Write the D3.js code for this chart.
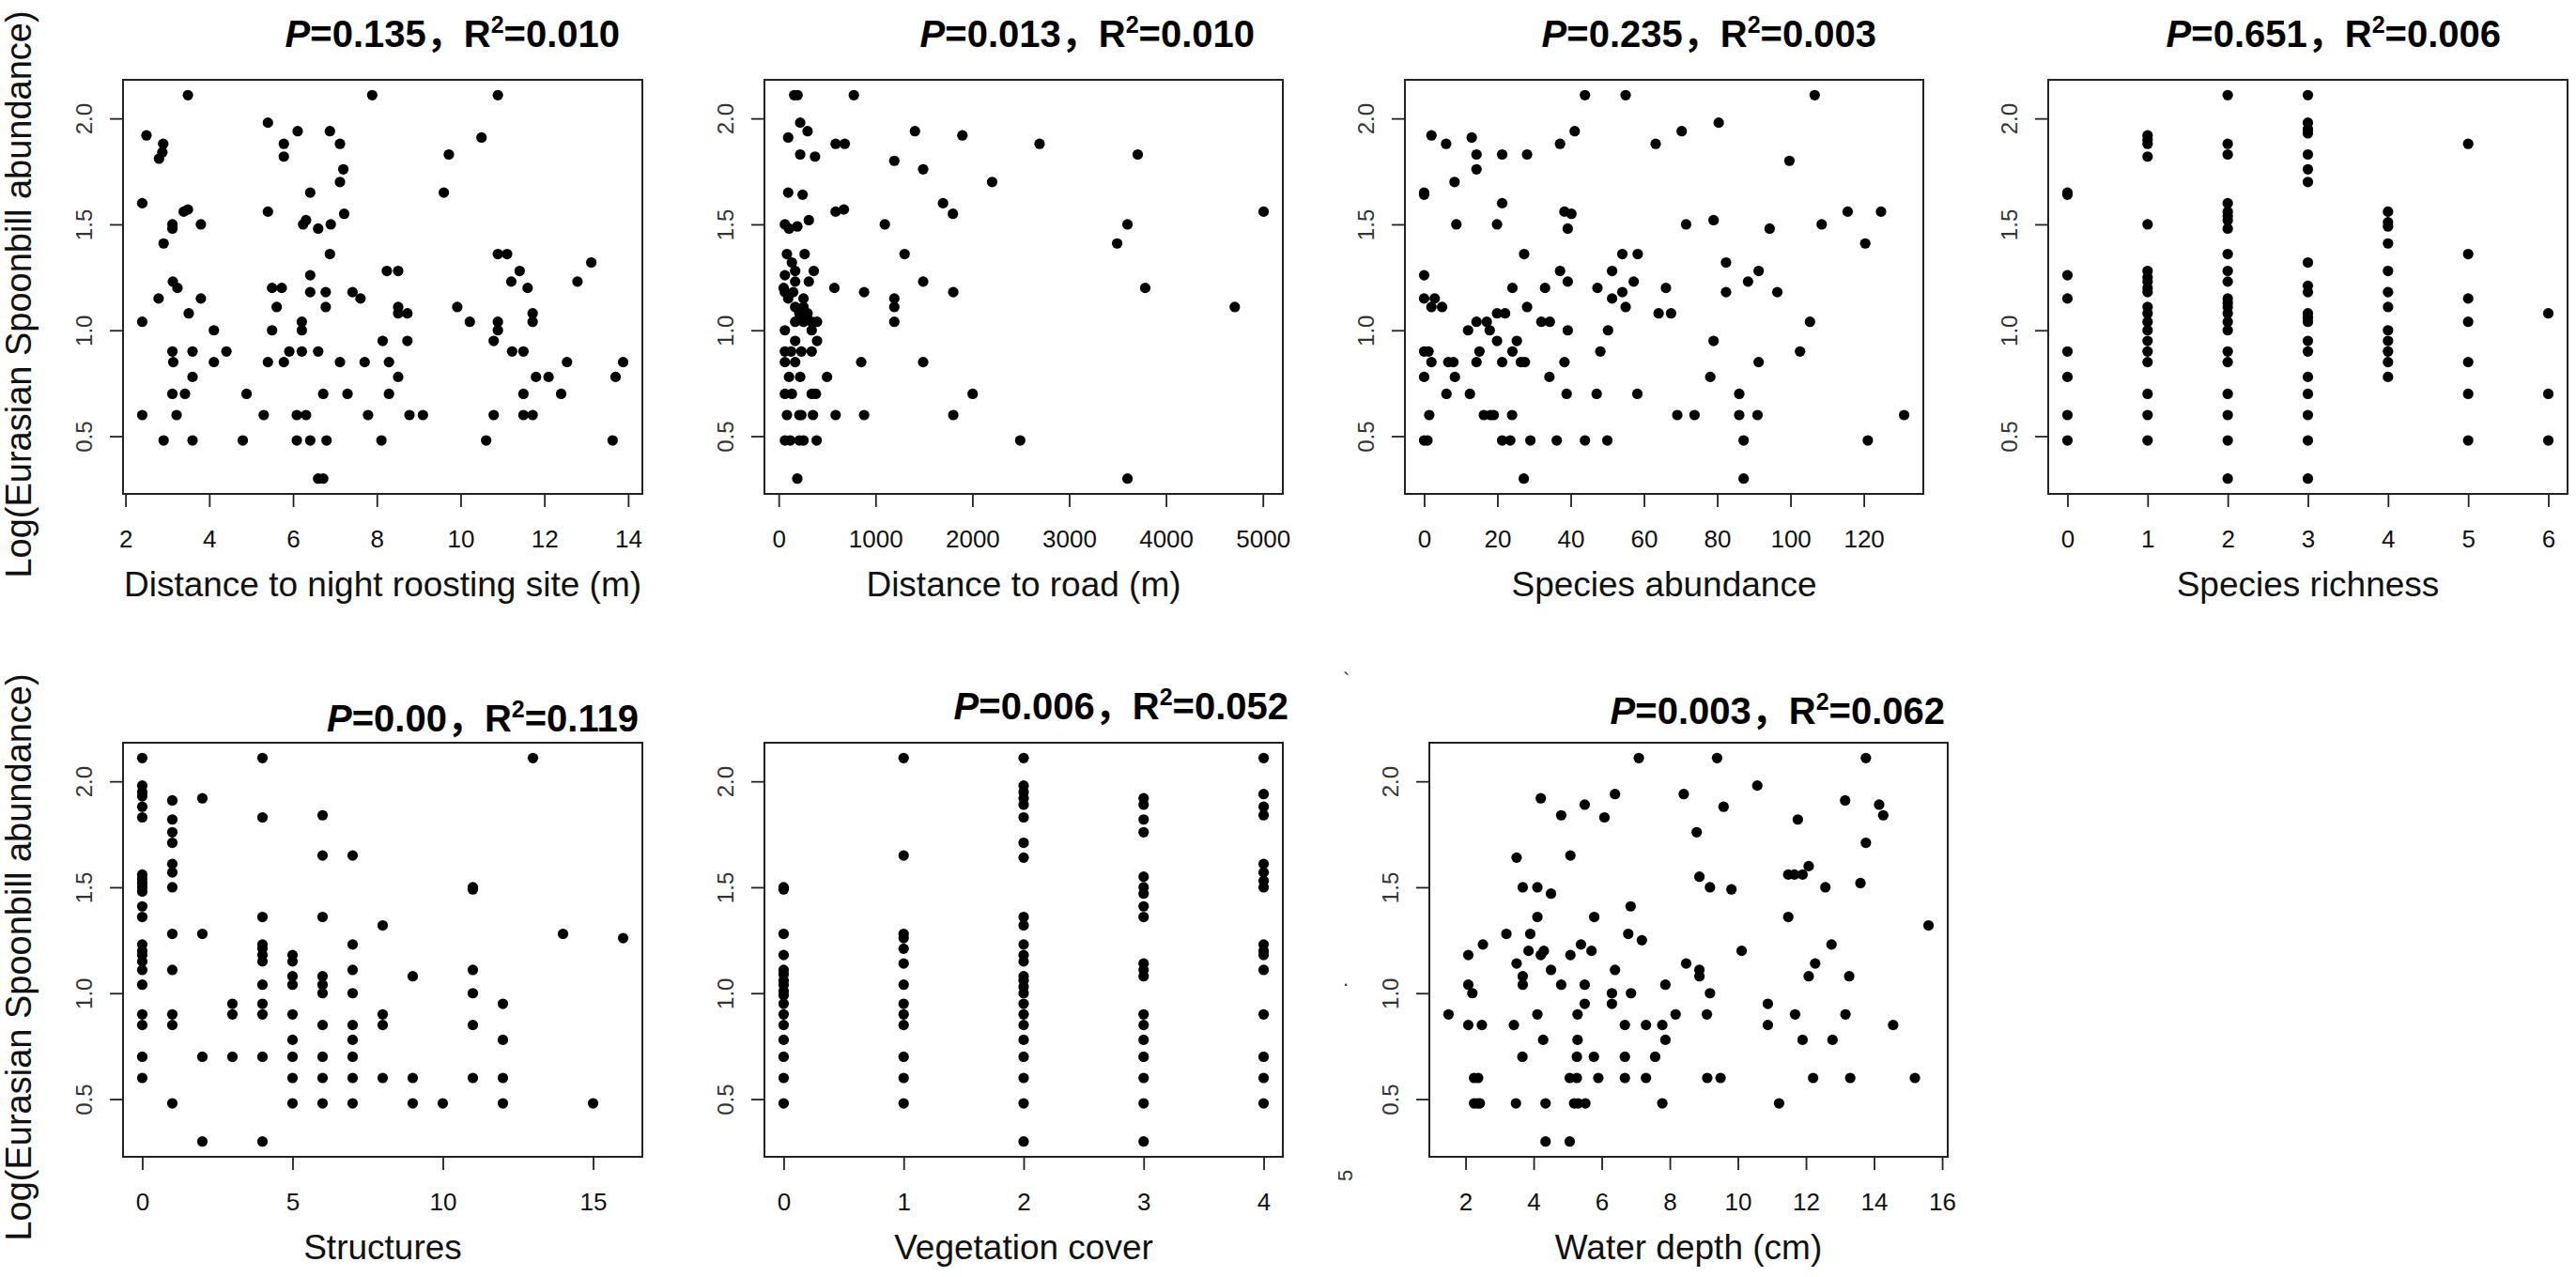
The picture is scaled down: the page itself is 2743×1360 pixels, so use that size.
<!DOCTYPE html>
<html>
<head>
<meta charset="utf-8">
<script src="https://cdn.jsdelivr.net/npm/d3@7"></script>
<style>
  body { margin: 0; background: #fff; }
  svg { display: block; }
</style>
</head>
<body>
<div id="chart"></div>
<script>
// ---- data (y = log10 abundance) ----
var yLabel = "Log(Eurasian Spoonbill abundance)";
var xTitles = ["Distance to night roosting site (m)", "Distance to road (m)", "Species abundance",
  "Species richness", "Structures", "Vegetation cover", "Water depth (cm)"];
var pValues = ["0.135", "0.013", "0.235", "0.651", "0.00", "0.006", "0.003"];
var r2Values = ["0.010", "0.010", "0.003", "0.006", "0.119", "0.052", "0.062"];
var yTicks = [0.5, 1.0, 1.5, 2.0];
var roostTicks = [2, 4, 6, 8, 10, 12, 14];
var roadTicks = [0, 1000, 2000, 3000, 4000, 5000];
var abundTicks = [0, 20, 40, 60, 80, 100, 120];
var richTicks = [0, 1, 2, 3, 4, 5, 6];
var structTicks = [0, 5, 10, 15];
var vegTicks = [0, 1, 2, 3, 4];
var depthTicks = [2, 4, 6, 8, 10, 12, 14, 16];

var roostPts = [
  [3.49,2.11],[7.89,2.11],[10.89,2.11],[2.50,1.92],[2.90,1.88],[2.80,1.81],[2.88,1.84],
  [5.40,1.98],[5.78,1.88],[5.78,1.82],[6.11,1.94],[6.88,1.94],[7.12,1.88],[7.20,1.76],[7.12,1.70],[6.41,1.65],
  [10.50,1.91],[9.72,1.83],[9.60,1.65],[2.40,1.60],[3.39,1.56],[3.49,1.57],[3.12,1.50],[3.12,1.48],[3.80,1.50],[2.91,1.41],
  [5.40,1.56],[6.24,1.50],[6.31,1.52],[6.60,1.48],[6.90,1.50],[7.22,1.55],[6.88,1.36],
  [10.89,1.36],[11.11,1.36],[11.41,1.28],[11.21,1.23],[11.60,1.20],[12.79,1.23],[13.12,1.32],
  [8.24,1.28],[8.51,1.28],[8.51,1.11],[8.51,1.08],[8.73,1.08],[8.73,0.95],[8.14,0.95],
  [7.42,1.18],[7.61,1.15],[6.41,1.26],[6.41,1.18],[6.78,1.18],[6.78,1.11],
  [5.50,1.20],[5.73,1.20],[5.61,1.11],[6.21,1.04],[6.21,1.00],[5.50,1.00],[5.91,0.90],[6.21,0.90],[6.60,0.90],
  [2.79,1.15],[2.40,1.04],[3.13,1.23],[3.24,1.20],[3.80,1.15],[3.51,1.08],[4.11,1.00],[3.12,0.90],[3.60,0.90],[4.41,0.90],
  [9.92,1.11],[10.22,1.04],[10.89,1.04],[10.89,1.00],[10.79,0.95],[11.23,0.90],[11.50,0.90],[11.72,1.08],[11.72,1.04],
  [3.14,0.85],[4.11,0.85],[5.40,0.85],[5.78,0.85],[7.12,0.85],[7.71,0.85],[8.29,0.85],[12.54,0.85],[13.88,0.85],
  [3.60,0.78],[8.51,0.78],[11.80,0.78],[12.10,0.78],[13.70,0.78],
  [3.12,0.70],[3.42,0.70],[4.89,0.70],[6.72,0.70],[7.30,0.70],[8.29,0.70],[11.50,0.70],[12.40,0.70],
  [2.40,0.60],[3.22,0.60],[5.30,0.60],[6.09,0.60],[6.31,0.60],[7.79,0.60],[8.78,0.60],[9.10,0.60],[10.79,0.60],[11.50,0.60],[11.72,0.60],
  [2.91,0.48],[3.60,0.48],[4.80,0.48],[6.09,0.48],[6.41,0.48],[6.80,0.48],[8.11,0.48],[10.61,0.48],[13.63,0.48],
  [6.60,0.30],[6.72,0.30]
];

var roadPts = [
  [160,2.11],[195,2.11],[776,2.11],[222,1.98],[298,1.94],[98,1.91],[588,1.88],[682,1.88],[222,1.83],[375,1.82],
  [1194,1.80],[1407,1.94],[1897,1.92],[1492,1.76],[2204,1.70],[2694,1.88],[3708,1.83],
  [98,1.65],[247,1.64],[588,1.56],[673,1.57],[1697,1.60],[1799,1.55],[1096,1.50],[3602,1.50],[3495,1.41],[5008,1.56],
  [64,1.50],[107,1.48],[192,1.49],[311,1.52],[1300,1.36],[85,1.36],[268,1.36],[136,1.32],[170,1.28],[362,1.28],
  [64,1.26],[311,1.23],[170,1.23],[51,1.20],[575,1.20],[1492,1.23],[882,1.18],[1803,1.18],[3785,1.20],
  [1194,1.15],[1194,1.11],[1194,1.04],[4710,1.11],
  [64,1.18],[98,1.15],[150,1.18],[256,1.15],[256,1.11],[170,1.11],[213,1.08],[298,1.08],[341,1.04],[396,1.04],
  [170,1.04],[256,1.04],[64,1.00],[341,1.00],[170,0.95],[396,0.95],[64,0.90],[128,0.90],[234,0.90],[341,0.90],
  [64,0.85],[170,0.85],[852,0.85],[1492,0.85],[107,0.78],[222,0.78],[499,0.78],
  [64,0.70],[136,0.70],[341,0.70],[384,0.70],[2003,0.70],
  [85,0.60],[213,0.60],[234,0.60],[354,0.60],[588,0.60],[882,0.60],[1803,0.60],
  [64,0.48],[119,0.48],[213,0.48],[256,0.48],[392,0.48],[2494,0.48],[192,0.30],[3602,0.30]
];

var abundPts = [
  [43.9,2.11],[55.0,2.11],[106.6,2.11],[2.0,1.92],[6.0,1.88],[13.0,1.91],[14.3,1.83],[21.3,1.83],[28.1,1.83],
  [37.1,1.88],[41.1,1.94],[63.2,1.88],[70.3,1.94],[80.4,1.98],[99.7,1.80],[14.3,1.76],[8.3,1.70],[0,1.65],[0,1.64],
  [21.3,1.60],[8.8,1.50],[19.9,1.50],[38.3,1.56],[40.2,1.55],[39.2,1.48],[71.5,1.50],[79.0,1.52],[94.3,1.48],
  [108.5,1.50],[115.6,1.56],[124.7,1.56],[120.4,1.41],
  [27.3,1.36],[54.1,1.36],[58.3,1.36],[82.4,1.32],[37.1,1.28],[51.3,1.28],[91.3,1.28],[0,1.26],[39.2,1.23],
  [57.2,1.23],[88.4,1.23],[24.1,1.20],[33.0,1.20],[47.3,1.20],[66.0,1.20],[54.1,1.18],[82.4,1.18],[96.4,1.18],
  [51.3,1.15],[55.0,1.11],[0,1.15],[2.9,1.15],[2.0,1.11],[4.9,1.11],[28.1,1.11],[19.9,1.08],[22.1,1.08],[64.0,1.08],
  [67.4,1.08],[14.3,1.04],[17.1,1.04],[32.0,1.04],[34.3,1.04],[105.3,1.04],[12.0,1.00],[17.9,1.00],[39.2,1.00],
  [50.2,1.00],[19.9,0.95],[25.3,0.95],[79.0,0.95],[0,0.90],[1.2,0.90],[15.1,0.90],[24.1,0.90],[48.1,0.90],[102.6,0.90],
  [2.0,0.85],[6.6,0.85],[8.0,0.85],[14.3,0.85],[21.3,0.85],[26.4,0.85],[27.5,0.85],[38.3,0.85],[91.3,0.85],
  [0,0.78],[8.4,0.78],[34.2,0.78],[78.1,0.78],
  [6.1,0.70],[12.5,0.70],[38.9,0.70],[47.1,0.70],[58.2,0.70],[86.0,0.70],
  [1.4,0.60],[16.3,0.60],[18.1,0.60],[19.0,0.60],[24.0,0.60],[69.1,0.60],[73.8,0.60],[86.0,0.60],[91.0,0.60],[131.0,0.60],
  [0,0.48],[0.9,0.48],[21.3,0.48],[23.5,0.48],[29.0,0.48],[36.2,0.48],[43.9,0.48],[50.0,0.48],[87.2,0.48],[121.1,0.48],
  [27.2,0.30],[87.2,0.30]
];

// categorical panels: one list of y values per x category
var richCats = [0, 1, 2, 3, 4, 5, 6];
var richVals = [
  [1.65,1.64,1.26,1.15,0.90,0.78,0.60,0.48],
  [1.92,1.90,1.88,1.82,1.50,1.28,1.25,1.23,1.20,1.18,1.11,1.08,1.04,1.00,0.95,0.90,0.85,0.70,0.60,0.48],
  [2.11,1.88,1.83,1.60,1.56,1.54,1.52,1.48,1.36,1.28,1.23,1.15,1.13,1.11,1.08,1.04,1.00,0.90,0.85,0.70,0.60,0.48,0.30],
  [2.11,1.98,1.95,1.93,1.83,1.76,1.70,1.32,1.21,1.18,1.08,1.06,1.04,0.95,0.90,0.78,0.70,0.60,0.48,0.30],
  [1.56,1.51,1.49,1.41,1.28,1.18,1.11,1.00,0.95,0.90,0.85,0.78],
  [1.88,1.36,1.15,1.04,0.85,0.70,0.48],
  [1.08,0.70,0.48]
];

var structCats = [0, 1, 2, 3, 4, 5, 6, 7, 8, 9, 10, 11, 12, 13, 14, 15, 16];
var structVals = [
  [2.11,1.98,1.95,1.93,1.88,1.83,1.56,1.54,1.52,1.50,1.48,1.41,1.36,1.23,1.20,1.18,1.15,1.11,1.04,0.90,0.85,0.70,0.60],
  [1.91,1.82,1.76,1.71,1.61,1.57,1.50,1.28,1.11,0.90,0.85,0.48],
  [1.92,1.28,0.70,0.30],
  [0.95,0.90,0.70],
  [2.11,1.83,1.36,1.23,1.21,1.18,1.15,1.04,0.95,0.90,0.70,0.30],
  [1.18,1.15,1.08,1.04,0.90,0.78,0.70,0.60,0.48],
  [1.84,1.65,1.36,1.08,1.04,1.00,0.85,0.70,0.60,0.48],
  [1.65,1.23,1.11,1.00,0.85,0.78,0.70,0.60,0.48],
  [1.32,0.90,0.85,0.60],
  [1.08,0.60,0.48],
  [0.48],
  [1.50,1.49,1.11,1.00,0.85,0.60],
  [0.95,0.78,0.60,0.48],
  [2.11],
  [1.28],
  [0.48],
  [1.26]
];

var vegCats = [0, 1, 2, 3, 4];
var vegVals = [
  [1.50,1.49,1.28,1.18,1.11,1.09,1.06,1.04,1.01,0.99,0.95,0.90,0.85,0.78,0.70,0.60,0.48],
  [2.11,1.65,1.28,1.26,1.21,1.14,1.04,0.95,0.90,0.85,0.70,0.60,0.48],
  [2.11,1.98,1.95,1.92,1.89,1.83,1.71,1.64,1.36,1.32,1.23,1.18,1.15,1.08,1.06,1.03,1.00,0.95,0.90,0.85,0.78,0.70,0.60,0.48,0.30],
  [1.92,1.89,1.82,1.76,1.55,1.50,1.47,1.41,1.36,1.14,1.11,1.08,0.90,0.85,0.78,0.70,0.60,0.48,0.30],
  [2.11,1.94,1.88,1.84,1.61,1.57,1.53,1.50,1.23,1.20,1.18,1.11,0.90,0.70,0.60,0.48]
];

var depthPts = [
  [1.50,0.90],[2.08,1.18],[2.08,1.04],[2.20,1.00],[2.08,0.85],[2.48,0.85],[2.51,1.23],
  [2.25,0.60],[2.37,0.60],[2.25,0.48],[2.35,0.48],[2.42,0.48],
  [3.20,1.28],[3.50,1.64],[3.68,1.50],[3.50,1.14],[3.68,1.08],[3.68,1.04],[3.42,0.85],[3.67,0.70],[3.48,0.48],
  [3.85,1.20],[3.90,1.28],[4.11,1.50],[4.11,1.36],[4.21,1.92],[4.21,1.18],[4.30,1.20],[4.11,0.90],[4.28,0.78],[4.35,0.48],[4.35,0.30],
  [4.51,1.47],[4.51,1.11],[4.81,1.84],[4.81,1.04],[5.08,1.65],[5.08,1.18],[5.06,0.60],[5.06,0.30],
  [5.29,0.90],[5.29,0.78],[5.27,0.70],[5.27,0.60],[5.19,0.48],[5.31,0.48],[5.52,0.48],
  [5.39,1.23],[5.50,1.89],[5.50,1.04],[5.50,0.95],[5.70,1.20],[5.78,1.36],[5.77,0.70],[5.90,0.60],
  [6.08,1.83],[6.39,1.94],[6.39,1.11],[6.30,1.00],[6.30,0.95],[6.78,1.28],[6.85,1.41],[6.86,1.00],[6.68,0.85],[6.68,0.70],[6.68,0.60],
  [7.09,2.11],[7.18,1.25],[7.30,0.85],[7.30,0.60],[7.57,0.70],[7.87,1.04],[7.78,0.85],[7.87,0.78],[7.78,0.48],[8.17,0.90],
  [8.41,1.94],[8.48,1.14],[8.79,1.76],[8.87,1.55],[8.87,1.11],[8.87,1.08],[9.18,1.50],[9.18,1.00],[9.09,0.90],[9.10,0.60],[9.49,0.60],
  [9.39,2.11],[9.58,1.88],[9.81,1.49],[10.11,1.20],[10.57,1.98],[10.88,0.95],[10.88,0.85],[11.21,0.48],
  [11.48,1.36],[11.48,1.56],[11.66,1.56],[11.90,1.56],[12.08,1.60],[11.76,1.82],[11.68,0.90],[11.90,0.78],[12.08,1.08],[12.27,1.14],[12.21,0.60],
  [12.57,1.50],[12.75,1.23],[12.78,0.78],[13.15,1.91],[13.16,0.90],[13.27,1.08],[13.30,0.60],
  [13.76,2.11],[13.76,1.71],[13.60,1.52],[14.15,1.89],[14.27,1.84],[14.56,0.85],[15.20,0.60],[15.60,1.32]
];

// turn category lists into point pairs
function catPoints(cats, vals) {
  var out = [];
  cats.forEach(function (c, i) {
    vals[i].forEach(function (v) { out.push([c, v]); });
  });
  return out;
}

var W = 2743, H = 1360;
var boxH = 441;
var font = "'Liberation Sans', Arial, 'Noto Sans CJK SC', sans-serif";

// frame left/top/width; gap = title end inset from frame right, lift = title baseline above frame
var panels = [
  { pts: roostPts, ticks: roostTicks, left: 131, top: 85, width: 553, gap: 24, lift: 35 },
  { pts: roadPts, ticks: roadTicks, left: 814, top: 85, width: 552, gap: 30, lift: 35 },
  { pts: abundPts, ticks: abundTicks, left: 1496, top: 85, width: 552, gap: 50, lift: 35 },
  { pts: catPoints(richCats, richVals), ticks: richTicks, left: 2181, top: 85, width: 553, gap: 71, lift: 35 },
  { pts: catPoints(structCats, structVals), ticks: structTicks, left: 131, top: 791, width: 553, gap: 4, lift: 12 },
  { pts: catPoints(vegCats, vegVals), ticks: vegTicks, left: 814, top: 791, width: 552, gap: -6, lift: 25 },
  { pts: depthPts, ticks: depthTicks, left: 1522, top: 791, width: 552, gap: 3, lift: 20 }
];

// R style axis range: data extent plus 4% each side
function pad(ext) {
  var d = (ext[1] - ext[0]) * 0.04;
  return [ext[0] - d, ext[1] + d];
}

var allY = [];
panels.forEach(function (p) { p.pts.forEach(function (d) { allY.push(d[1]); }); });
var yDomain = pad(d3.extent(allY));

var svg = d3.select("#chart").append("svg")
  .attr("width", W)
  .attr("height", H)
  .style("font-family", font);

svg.append("rect").attr("width", W).attr("height", H).attr("fill", "#fff");

panels.forEach(function (p, i) {
  var g = svg.append("g").attr("transform", "translate(" + p.left + "," + p.top + ")");

  var x = d3.scaleLinear().domain(pad(d3.extent(p.pts, function (d) { return d[0]; }))).range([0, p.width]);
  var y = d3.scaleLinear().domain(yDomain).range([boxH, 0]);

  // x axis
  var xa = g.append("g")
    .attr("transform", "translate(0," + boxH + ")")
    .call(d3.axisBottom(x).tickValues(p.ticks).tickSize(14).tickSizeOuter(0).tickFormat(d3.format("d")));
  xa.attr("font-family", font);
  xa.select(".domain").remove();
  xa.selectAll("line").attr("stroke", "#222").attr("stroke-width", 1.8);
  xa.selectAll("text")
    .attr("y", 57).attr("dy", 0)
    .attr("font-size", 26)
    .attr("fill", "#111");

  // y axis
  var ya = g.append("g")
    .call(d3.axisLeft(y).tickValues(yTicks).tickSize(14).tickSizeOuter(0).tickFormat(d3.format(".1f")));
  ya.attr("font-family", font);
  ya.select(".domain").remove();
  ya.selectAll("line").attr("stroke", "#222").attr("stroke-width", 1.8);
  ya.selectAll("text")
    .attr("x", 0).attr("dy", 0)
    .attr("transform", "translate(-33,0) rotate(-90)")
    .attr("text-anchor", "middle")
    .attr("font-size", 24)
    .attr("fill", "#333");

  // frame
  g.append("rect")
    .attr("width", p.width)
    .attr("height", boxH)
    .attr("fill", "none")
    .attr("stroke", "#222")
    .attr("stroke-width", 2);

  // points
  g.selectAll("circle.pt")
    .data(p.pts)
    .join("circle")
    .attr("class", "pt")
    .attr("cx", function (d) { return x(d[0]); })
    .attr("cy", function (d) { return y(d[1]); })
    .attr("r", 5.6)
    .attr("fill", "#000");

  // x axis title
  g.append("text")
    .attr("x", p.width / 2)
    .attr("y", boxH + 109)
    .attr("text-anchor", "middle")
    .attr("font-size", 37)
    .attr("fill", "#111")
    .text(xTitles[i]);

  // P / R2 heading
  var t = g.append("text")
    .attr("x", p.width - p.gap)
    .attr("y", -p.lift)
    .attr("text-anchor", "end")
    .attr("font-size", 40)
    .attr("font-weight", "bold")
    .attr("fill", "#000");
  t.append("tspan").attr("font-style", "italic").text("P");
  t.append("tspan").text("=" + pValues[i] + "，R");
  t.append("tspan").attr("dy", -15).attr("font-size", 25).text("2");
  t.append("tspan").attr("dy", 15).text("=" + r2Values[i]);
});

// shared y axis labels, one per row
[85, 791].forEach(function (top) {
  svg.append("text")
    .attr("transform", "translate(33," + (top + boxH / 2 + 8) + ") rotate(-90)")
    .attr("text-anchor", "middle")
    .attr("font-size", 38)
    .attr("fill", "#111")
    .text(yLabel);
});

// small leftover marks left of the water depth frame
var stray = svg.append("g").attr("fill", "#333").attr("font-size", 22).attr("font-family", font);
stray.append("text").attr("x", 1430).attr("y", 732).text("`");
stray.append("text").attr("x", 1430).attr("y", 1050).text(".");
stray.append("text").attr("transform", "translate(1440,1258) rotate(-90)").text("5");
</script>
</body>
</html>
